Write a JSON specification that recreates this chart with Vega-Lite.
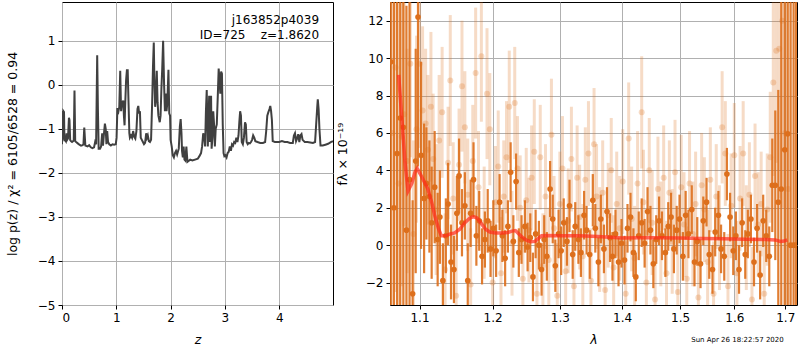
{
  "$schema": "https://vega.github.io/schema/vega-lite/v6.json",
  "background": "white",
  "padding": {"left": 5, "top": 1, "right": 1, "bottom": 0},
  "spacing": 1,
  "config": {
    "font": "DejaVu Sans",
    "view": {"stroke": "black", "strokeWidth": 1},
    "axis": {
      "labelFont": "DejaVu Sans", "labelFontSize": 12, "labelColor": "black",
      "titleFont": "DejaVu Sans", "titleFontSize": 12.5, "titleFontWeight": "normal", "titleColor": "black",
      "gridColor": "#b0b0b0", "gridWidth": 1, "gridOpacity": 1,
      "tickColor": "black", "tickSize": 4, "domain": false, "labelPadding": 3,
      "labelExpr": "replace(datum.label, '-', '−')"
    }
  },
  "datasets": {
    "pz": [
      {"z":0.000,"lp":-1.35},{"z":0.006,"lp":-0.60},{"z":0.012,"lp":-0.62},{"z":0.018,"lp":-1.25},{"z":0.026,"lp":-0.60},{"z":0.037,"lp":-0.62},{"z":0.045,"lp":-1.28},{"z":0.055,"lp":-1.25},{"z":0.070,"lp":-1.28},{"z":0.085,"lp":-1.10},{"z":0.095,"lp":-1.25},{"z":0.110,"lp":-1.22},{"z":0.128,"lp":-0.75},{"z":0.138,"lp":-0.80},{"z":0.150,"lp":-1.25},{"z":0.165,"lp":-1.28},{"z":0.185,"lp":-1.30},{"z":0.205,"lp":-1.28},{"z":0.217,"lp":-1.25},{"z":0.230,"lp":-0.13},{"z":0.243,"lp":-1.28},{"z":0.26,"lp":-1.30},{"z":0.29,"lp":-1.33},{"z":0.32,"lp":-1.36},{"z":0.35,"lp":-1.38},{"z":0.38,"lp":-1.37},{"z":0.395,"lp":-1.35},{"z":0.41,"lp":-0.97},{"z":0.43,"lp":-1.38},{"z":0.47,"lp":-1.40},{"z":0.50,"lp":-1.37},{"z":0.53,"lp":-1.42},{"z":0.56,"lp":-1.44},{"z":0.59,"lp":-1.42},{"z":0.61,"lp":-1.30},{"z":0.628,"lp":-1.35},{"z":0.648,"lp":0.67},{"z":0.662,"lp":-0.60},{"z":0.675,"lp":-1.45},{"z":0.70,"lp":-1.45},{"z":0.72,"lp":-1.40},{"z":0.74,"lp":-1.10},{"z":0.755,"lp":-1.38},{"z":0.77,"lp":-1.15},{"z":0.79,"lp":-0.88},{"z":0.805,"lp":-1.00},{"z":0.818,"lp":-1.35},{"z":0.832,"lp":-1.05},{"z":0.848,"lp":-1.30},{"z":0.87,"lp":-1.35},{"z":0.90,"lp":-1.38},{"z":0.93,"lp":-1.35},{"z":0.96,"lp":-1.36},{"z":0.99,"lp":-1.35},{"z":1.005,"lp":-1.20},{"z":1.02,"lp":-0.53},{"z":1.04,"lp":-0.60},{"z":1.055,"lp":-0.50},{"z":1.072,"lp":0.32},{"z":1.088,"lp":-0.60},{"z":1.10,"lp":-0.45},{"z":1.115,"lp":-0.40},{"z":1.128,"lp":-0.36},{"z":1.14,"lp":-0.70},{"z":1.152,"lp":-0.92},{"z":1.165,"lp":-0.40},{"z":1.18,"lp":0.10},{"z":1.195,"lp":0.33},{"z":1.21,"lp":0.33},{"z":1.225,"lp":-0.40},{"z":1.24,"lp":-1.10},{"z":1.25,"lp":-1.20},{"z":1.27,"lp":-1.15},{"z":1.29,"lp":-1.20},{"z":1.31,"lp":-1.05},{"z":1.33,"lp":-1.18},{"z":1.35,"lp":-1.22},{"z":1.37,"lp":-1.05},{"z":1.39,"lp":-0.55},{"z":1.405,"lp":-0.48},{"z":1.42,"lp":-0.65},{"z":1.435,"lp":-0.60},{"z":1.45,"lp":-1.20},{"z":1.47,"lp":-1.25},{"z":1.49,"lp":-1.30},{"z":1.51,"lp":-1.35},{"z":1.53,"lp":-1.32},{"z":1.55,"lp":-1.10},{"z":1.565,"lp":-1.20},{"z":1.58,"lp":-1.15},{"z":1.60,"lp":-1.28},{"z":1.62,"lp":-1.30},{"z":1.64,"lp":-1.25},{"z":1.66,"lp":-0.40},{"z":1.675,"lp":0.40},{"z":1.69,"lp":0.96},{"z":1.70,"lp":0.20},{"z":1.715,"lp":-0.50},{"z":1.73,"lp":-0.30},{"z":1.745,"lp":0.32},{"z":1.76,"lp":-0.40},{"z":1.775,"lp":-0.70},{"z":1.80,"lp":-0.85},{"z":1.815,"lp":-0.70},{"z":1.83,"lp":-0.10},{"z":1.845,"lp":0.35},{"z":1.862,"lp":1.00},{"z":1.88,"lp":0.00},{"z":1.895,"lp":-0.60},{"z":1.91,"lp":-0.20},{"z":1.925,"lp":-0.60},{"z":1.94,"lp":-0.40},{"z":1.96,"lp":0.34},{"z":1.975,"lp":-0.65},{"z":1.99,"lp":-0.70},{"z":2.00,"lp":-1.25},{"z":2.02,"lp":-1.40},{"z":2.04,"lp":-1.60},{"z":2.06,"lp":-1.65},{"z":2.08,"lp":-1.55},{"z":2.10,"lp":-1.50},{"z":2.12,"lp":-1.58},{"z":2.15,"lp":-1.45},{"z":2.17,"lp":-0.95},{"z":2.185,"lp":-0.78},{"z":2.20,"lp":-1.10},{"z":2.21,"lp":-1.50},{"z":2.225,"lp":-1.65},{"z":2.24,"lp":-1.40},{"z":2.255,"lp":-1.70},{"z":2.27,"lp":-1.72},{"z":2.29,"lp":-1.40},{"z":2.31,"lp":-1.75},{"z":2.33,"lp":-1.73},{"z":2.36,"lp":-1.70},{"z":2.40,"lp":-1.72},{"z":2.45,"lp":-1.70},{"z":2.50,"lp":-1.68},{"z":2.53,"lp":-1.62},{"z":2.56,"lp":-1.55},{"z":2.58,"lp":-1.40},{"z":2.60,"lp":-1.10},{"z":2.62,"lp":-1.20},{"z":2.635,"lp":-1.40},{"z":2.65,"lp":-0.60},{"z":2.665,"lp":-0.12},{"z":2.675,"lp":-0.80},{"z":2.685,"lp":-1.40},{"z":2.70,"lp":-0.70},{"z":2.71,"lp":-0.25},{"z":2.72,"lp":-1.30},{"z":2.73,"lp":-0.90},{"z":2.745,"lp":-0.25},{"z":2.755,"lp":-1.45},{"z":2.77,"lp":-1.20},{"z":2.785,"lp":-0.60},{"z":2.80,"lp":-0.90},{"z":2.815,"lp":-1.40},{"z":2.83,"lp":-1.00},{"z":2.85,"lp":-0.90},{"z":2.87,"lp":-0.20},{"z":2.885,"lp":0.37},{"z":2.90,"lp":0.10},{"z":2.915,"lp":-0.20},{"z":2.93,"lp":0.30},{"z":2.945,"lp":0.25},{"z":2.96,"lp":-0.90},{"z":2.975,"lp":-1.55},{"z":2.99,"lp":-1.62},{"z":3.01,"lp":-1.60},{"z":3.03,"lp":-1.65},{"z":3.05,"lp":-1.55},{"z":3.07,"lp":-1.52},{"z":3.09,"lp":-1.40},{"z":3.11,"lp":-1.50},{"z":3.13,"lp":-1.35},{"z":3.15,"lp":-1.38},{"z":3.17,"lp":-1.30},{"z":3.19,"lp":-1.32},{"z":3.21,"lp":-1.20},{"z":3.23,"lp":-1.30},{"z":3.25,"lp":-1.15},{"z":3.265,"lp":-0.85},{"z":3.28,"lp":-0.60},{"z":3.295,"lp":-0.70},{"z":3.31,"lp":-1.30},{"z":3.33,"lp":-1.35},{"z":3.35,"lp":-1.20},{"z":3.37,"lp":-0.85},{"z":3.385,"lp":-0.90},{"z":3.40,"lp":-1.30},{"z":3.42,"lp":-1.35},{"z":3.44,"lp":-1.32},{"z":3.46,"lp":-1.33},{"z":3.48,"lp":-1.30},{"z":3.50,"lp":-1.25},{"z":3.52,"lp":-1.15},{"z":3.54,"lp":-1.20},{"z":3.56,"lp":-1.28},{"z":3.60,"lp":-1.30},{"z":3.65,"lp":-1.32},{"z":3.70,"lp":-1.32},{"z":3.74,"lp":-1.30},{"z":3.76,"lp":-1.05},{"z":3.78,"lp":-0.70},{"z":3.80,"lp":-0.62},{"z":3.82,"lp":-0.55},{"z":3.835,"lp":-0.48},{"z":3.85,"lp":-0.60},{"z":3.865,"lp":-0.80},{"z":3.88,"lp":-1.28},{"z":3.92,"lp":-1.30},{"z":3.96,"lp":-1.30},{"z":4.00,"lp":-1.30},{"z":4.05,"lp":-1.28},{"z":4.10,"lp":-1.30},{"z":4.15,"lp":-1.30},{"z":4.20,"lp":-1.32},{"z":4.25,"lp":-1.32},{"z":4.27,"lp":-1.15},{"z":4.29,"lp":-1.10},{"z":4.31,"lp":-1.28},{"z":4.33,"lp":-1.22},{"z":4.35,"lp":-1.12},{"z":4.37,"lp":-1.30},{"z":4.39,"lp":-1.15},{"z":4.41,"lp":-1.12},{"z":4.43,"lp":-1.25},{"z":4.47,"lp":-1.30},{"z":4.52,"lp":-1.30},{"z":4.57,"lp":-1.31},{"z":4.62,"lp":-1.32},{"z":4.66,"lp":-1.30},{"z":4.68,"lp":-0.90},{"z":4.70,"lp":-0.50},{"z":4.71,"lp":-0.33},{"z":4.725,"lp":-0.55},{"z":4.74,"lp":-1.00},{"z":4.76,"lp":-1.38},{"z":4.80,"lp":-1.38},{"z":4.85,"lp":-1.36},{"z":4.90,"lp":-1.34},{"z":4.95,"lp":-1.30},{"z":4.99,"lp":-1.28}
    ],
    "labels": [
      {"z":4.733,"lp":1.48,"t":"j163852p4039"},
      {"z":4.733,"lp":1.12,"t":"ID=725\u00a0\u00a0\u00a0\u00a0z=1.8620"}
    ],
    "stamp": [
      {"w":1.697,"f":-5.07,"t":"Sun Apr 26 18:22:57 2020"}
    ],
    "dark": [
      {"w":1.063,"f":9.8,"e":15},{"w":1.067,"f":2.0,"e":15},{"w":1.071,"f":4.9,"e":15},{"w":1.075,"f":6.8,"e":12},{"w":1.079,"f":6.3,"e":12},{"w":1.083,"f":0.8,"e":12},{"w":1.087,"f":3.5,"e":12},{"w":1.091,"f":-2.6,"e":5},{"w":1.095,"f":4.5,"e":6},{"w":1.098,"f":12.2,"e":8},{"w":1.102,"f":4.8,"e":5},{"w":1.106,"f":2.5,"e":4},{"w":1.109,"f":3.3,"e":3},{"w":1.113,"f":2.6,"e":3},{"w":1.116,"f":1.2,"e":3},{"w":1.120,"f":3.1,"e":3},{"w":1.124,"f":0.3,"e":2.5},{"w":1.127,"f":1.5,"e":2.5},{"w":1.131,"f":-1.9,"e":2},{"w":1.135,"f":0.5,"e":2},{"w":1.138,"f":2.2,"e":2.2},{"w":1.142,"f":-0.9,"e":2},{"w":1.146,"f":-1.3,"e":1.8},{"w":1.150,"f":1.7,"e":2},{"w":1.153,"f":3.7,"e":2},{"w":1.157,"f":1.2,"e":1.8},{"w":1.161,"f":2.1,"e":1.8},{"w":1.165,"f":-1.9,"e":2},{"w":1.169,"f":1.7,"e":1.8},{"w":1.173,"f":3.5,"e":2},{"w":1.177,"f":0.5,"e":1.6},{"w":1.181,"f":1.3,"e":1.6},{"w":1.185,"f":-0.6,"e":1.5},{"w":1.189,"f":0.3,"e":1.5},{"w":1.193,"f":1.3,"e":1.7},{"w":1.197,"f":-0.2,"e":1.5},{"w":1.201,"f":0.9,"e":1.5},{"w":1.205,"f":-0.3,"e":1.4},{"w":1.210,"f":2.3,"e":1.5},{"w":1.214,"f":0.5,"e":1.4},{"w":1.218,"f":-0.7,"e":1.5},{"w":1.222,"f":1.0,"e":1.4},{"w":1.226,"f":3.9,"e":1.6},{"w":1.230,"f":0.2,"e":1.4},{"w":1.234,"f":3.4,"e":1.5},{"w":1.238,"f":-0.4,"e":1.3},{"w":1.242,"f":0.3,"e":1.3},{"w":1.247,"f":1.0,"e":1.4},{"w":1.251,"f":-0.1,"e":1.3},{"w":1.255,"f":0.4,"e":1.3},{"w":1.259,"f":-1.7,"e":1.3},{"w":1.263,"f":0.6,"e":1.3},{"w":1.268,"f":0.0,"e":1.3},{"w":1.272,"f":-1.3,"e":1.4},{"w":1.276,"f":0.3,"e":1.3},{"w":1.280,"f":-0.6,"e":1.3},{"w":1.285,"f":3.0,"e":1.5},{"w":1.289,"f":1.4,"e":1.3},{"w":1.293,"f":-1.1,"e":1.4},{"w":1.298,"f":0.6,"e":1.3},{"w":1.302,"f":-0.3,"e":1.3},{"w":1.306,"f":1.2,"e":1.3},{"w":1.311,"f":0.2,"e":1.3},{"w":1.315,"f":2.1,"e":1.4},{"w":1.320,"f":-0.5,"e":1.3},{"w":1.324,"f":1.0,"e":1.3},{"w":1.329,"f":0.3,"e":1.3},{"w":1.333,"f":-0.4,"e":1.3},{"w":1.338,"f":1.6,"e":1.3},{"w":1.342,"f":0.8,"e":1.3},{"w":1.347,"f":-0.5,"e":1.3},{"w":1.352,"f":2.4,"e":1.4},{"w":1.356,"f":0.9,"e":1.3},{"w":1.361,"f":-0.9,"e":1.3},{"w":1.365,"f":1.4,"e":1.3},{"w":1.370,"f":-0.2,"e":1.3},{"w":1.375,"f":1.8,"e":1.3},{"w":1.380,"f":0.4,"e":1.3},{"w":1.384,"f":-0.6,"e":1.3},{"w":1.389,"f":0.6,"e":1.3},{"w":1.394,"f":-0.9,"e":1.3},{"w":1.399,"f":0.1,"e":1.3},{"w":1.404,"f":-0.8,"e":1.3},{"w":1.409,"f":0.9,"e":1.3},{"w":1.414,"f":1.5,"e":1.3},{"w":1.419,"f":-0.4,"e":1.3},{"w":1.423,"f":-1.7,"e":1.3},{"w":1.428,"f":0.5,"e":1.3},{"w":1.433,"f":1.2,"e":1.3},{"w":1.438,"f":0.1,"e":1.3},{"w":1.443,"f":1.8,"e":1.3},{"w":1.448,"f":0.8,"e":1.3},{"w":1.453,"f":-1.0,"e":1.3},{"w":1.458,"f":0.3,"e":1.3},{"w":1.463,"f":1.3,"e":1.3},{"w":1.468,"f":0.5,"e":1.3},{"w":1.474,"f":-0.4,"e":1.3},{"w":1.479,"f":1.0,"e":1.3},{"w":1.484,"f":1.5,"e":1.3},{"w":1.489,"f":-0.2,"e":1.3},{"w":1.494,"f":0.8,"e":1.3},{"w":1.499,"f":1.4,"e":1.3},{"w":1.505,"f":-0.6,"e":1.3},{"w":1.510,"f":1.6,"e":1.3},{"w":1.515,"f":0.6,"e":1.3},{"w":1.521,"f":1.9,"e":1.3},{"w":1.526,"f":-0.9,"e":1.3},{"w":1.531,"f":0.2,"e":1.3},{"w":1.537,"f":-1.0,"e":1.3},{"w":1.542,"f":1.3,"e":1.3},{"w":1.548,"f":2.3,"e":1.3},{"w":1.553,"f":-0.5,"e":1.3},{"w":1.559,"f":-1.3,"e":1.3},{"w":1.564,"f":0.7,"e":1.3},{"w":1.570,"f":1.6,"e":1.3},{"w":1.575,"f":-0.2,"e":1.3},{"w":1.581,"f":-0.6,"e":1.3},{"w":1.586,"f":3.8,"e":1.4},{"w":1.592,"f":1.5,"e":1.3},{"w":1.598,"f":-0.3,"e":1.3},{"w":1.603,"f":0.5,"e":1.3},{"w":1.609,"f":-1.3,"e":1.3},{"w":1.615,"f":1.2,"e":1.3},{"w":1.621,"f":-0.5,"e":1.3},{"w":1.626,"f":0.6,"e":1.3},{"w":1.632,"f":1.4,"e":1.3},{"w":1.638,"f":-0.9,"e":1.3},{"w":1.644,"f":0.9,"e":1.3},{"w":1.650,"f":-1.6,"e":1.3},{"w":1.656,"f":1.3,"e":1.4},{"w":1.662,"f":0.5,"e":1.4},{"w":1.668,"f":-0.6,"e":1.6},{"w":1.674,"f":3.2,"e":2.5},{"w":1.680,"f":3.2,"e":4},{"w":1.686,"f":2.3,"e":6},{"w":1.692,"f":3.0,"e":15},{"w":1.699,"f":5.1,"e":20},{"w":1.705,"f":5.95,"e":20},{"w":1.711,"f":0.0,"e":20},{"w":1.717,"f":0.0,"e":20},{"w":1.722,"f":0.0,"e":20}
    ],
    "light": [
      {"w":1.065,"f":6.0,"e":15},{"w":1.069,"f":9.5,"e":12},{"w":1.073,"f":3.3,"e":10},{"w":1.077,"f":5.8,"e":8},{"w":1.080,"f":7.0,"e":6},{"w":1.084,"f":4.5,"e":6},{"w":1.088,"f":9.7,"e":5},{"w":1.092,"f":0.6,"e":5},{"w":1.096,"f":6.2,"e":5},{"w":1.100,"f":9.7,"e":4.5},{"w":1.104,"f":7.2,"e":4.5},{"w":1.108,"f":6.5,"e":4},{"w":1.111,"f":5.1,"e":4},{"w":1.115,"f":7.4,"e":4},{"w":1.118,"f":4.6,"e":3.5},{"w":1.122,"f":1.9,"e":3.5},{"w":1.126,"f":5.6,"e":3.5},{"w":1.130,"f":7.1,"e":3.5},{"w":1.134,"f":-1.3,"e":3},{"w":1.138,"f":4.4,"e":3},{"w":1.141,"f":8.8,"e":3.5},{"w":1.145,"f":2.5,"e":3},{"w":1.149,"f":-2.7,"e":3},{"w":1.153,"f":4.3,"e":3},{"w":1.157,"f":8.5,"e":3.5},{"w":1.161,"f":6.3,"e":3},{"w":1.165,"f":2.7,"e":3},{"w":1.169,"f":-2.1,"e":3},{"w":1.172,"f":4.5,"e":3},{"w":1.176,"f":9.2,"e":3.5},{"w":1.180,"f":3.1,"e":3},{"w":1.184,"f":10.1,"e":3.5},{"w":1.188,"f":1.2,"e":3},{"w":1.192,"f":8.1,"e":3.5},{"w":1.196,"f":6.2,"e":3},{"w":1.200,"f":-2.0,"e":3},{"w":1.204,"f":2.3,"e":3},{"w":1.208,"f":4.2,"e":3},{"w":1.212,"f":-1.5,"e":3},{"w":1.216,"f":2.6,"e":3},{"w":1.220,"f":4.7,"e":3},{"w":1.224,"f":7.4,"e":3},{"w":1.228,"f":0.1,"e":2.8},{"w":1.232,"f":7.6,"e":3},{"w":1.236,"f":4.1,"e":2.8},{"w":1.240,"f":2.0,"e":2.8},{"w":1.244,"f":-1.8,"e":2.8},{"w":1.249,"f":2.4,"e":2.8},{"w":1.253,"f":0.8,"e":2.8},{"w":1.257,"f":3.6,"e":2.8},{"w":1.261,"f":5.0,"e":2.8},{"w":1.265,"f":-2.6,"e":2.8},{"w":1.270,"f":4.7,"e":2.8},{"w":1.274,"f":-1.1,"e":2.8},{"w":1.278,"f":2.6,"e":2.8},{"w":1.283,"f":-0.8,"e":2.8},{"w":1.287,"f":5.9,"e":3},{"w":1.291,"f":0.9,"e":2.8},{"w":1.296,"f":-2.7,"e":2.8},{"w":1.300,"f":2.2,"e":2.8},{"w":1.304,"f":4.1,"e":2.8},{"w":1.309,"f":-1.4,"e":2.8},{"w":1.313,"f":1.3,"e":2.8},{"w":1.318,"f":4.6,"e":2.8},{"w":1.322,"f":-2.2,"e":2.8},{"w":1.327,"f":3.6,"e":2.8},{"w":1.331,"f":1.5,"e":2.8},{"w":1.336,"f":-0.6,"e":2.8},{"w":1.340,"f":3.5,"e":2.8},{"w":1.345,"f":4.9,"e":2.8},{"w":1.349,"f":-1.9,"e":2.8},{"w":1.354,"f":5.4,"e":3},{"w":1.358,"f":2.6,"e":2.8},{"w":1.363,"f":0.3,"e":2.8},{"w":1.368,"f":2.8,"e":2.8},{"w":1.372,"f":-2.4,"e":2.8},{"w":1.377,"f":1.6,"e":2.8},{"w":1.382,"f":4.0,"e":2.8},{"w":1.386,"f":-1.2,"e":2.8},{"w":1.391,"f":2.2,"e":2.8},{"w":1.396,"f":0.9,"e":2.8},{"w":1.401,"f":3.4,"e":2.8},{"w":1.406,"f":-2.6,"e":2.8},{"w":1.411,"f":5.7,"e":3},{"w":1.416,"f":1.4,"e":2.8},{"w":1.421,"f":-0.7,"e":2.8},{"w":1.426,"f":3.3,"e":2.8},{"w":1.433,"f":7.1,"e":3},{"w":1.436,"f":2.3,"e":2.8},{"w":1.441,"f":-2.0,"e":2.8},{"w":1.446,"f":4.0,"e":2.8},{"w":1.451,"f":1.2,"e":2.8},{"w":1.456,"f":-2.9,"e":2.8},{"w":1.461,"f":3.0,"e":2.8},{"w":1.466,"f":0.6,"e":2.8},{"w":1.471,"f":3.6,"e":2.8},{"w":1.476,"f":-1.5,"e":2.8},{"w":1.481,"f":2.8,"e":2.8},{"w":1.486,"f":0.2,"e":2.8},{"w":1.491,"f":3.9,"e":2.8},{"w":1.496,"f":-2.5,"e":2.8},{"w":1.502,"f":3.1,"e":2.8},{"w":1.507,"f":1.1,"e":2.8},{"w":1.512,"f":-1.8,"e":2.8},{"w":1.517,"f":3.3,"e":2.8},{"w":1.523,"f":0.6,"e":2.8},{"w":1.528,"f":2.2,"e":2.8},{"w":1.533,"f":-2.8,"e":2.8},{"w":1.539,"f":3.2,"e":2.8},{"w":1.544,"f":1.9,"e":2.8},{"w":1.550,"f":-0.9,"e":2.8},{"w":1.555,"f":3.5,"e":2.8},{"w":1.561,"f":-2.6,"e":2.8},{"w":1.566,"f":2.6,"e":2.8},{"w":1.572,"f":0.4,"e":2.8},{"w":1.577,"f":6.3,"e":3},{"w":1.583,"f":4.9,"e":2.8},{"w":1.588,"f":-2.2,"e":2.8},{"w":1.594,"f":2.1,"e":2.8},{"w":1.600,"f":4.8,"e":2.8},{"w":1.605,"f":-1.5,"e":2.8},{"w":1.611,"f":2.5,"e":2.8},{"w":1.617,"f":4.9,"e":2.8},{"w":1.623,"f":0.4,"e":2.8},{"w":1.629,"f":2.7,"e":2.8},{"w":1.634,"f":-2.9,"e":2.8},{"w":1.640,"f":3.7,"e":2.8},{"w":1.646,"f":1.1,"e":2.8},{"w":1.652,"f":2.2,"e":2.8},{"w":1.658,"f":-2.6,"e":2.8},{"w":1.664,"f":1.9,"e":3},{"w":1.670,"f":4.7,"e":3.5},{"w":1.676,"f":8.7,"e":5},{"w":1.682,"f":10.4,"e":6},{"w":1.688,"f":10.5,"e":8},{"w":1.694,"f":12.0,"e":10},{"w":1.700,"f":6.0,"e":12},{"w":1.706,"f":3.0,"e":15}
    ],
    "model": [
      {"w":1.073,"f":9.1},{"w":1.077,"f":6.8},{"w":1.081,"f":4.5},{"w":1.085,"f":2.9},{"w":1.090,"f":3.3},{"w":1.094,"f":3.9},{"w":1.097,"f":4.1},{"w":1.101,"f":3.8},{"w":1.106,"f":3.4},{"w":1.111,"f":3.0},{"w":1.116,"f":2.3},{"w":1.120,"f":1.6},{"w":1.125,"f":0.9},{"w":1.129,"f":0.5},{"w":1.135,"f":0.5},{"w":1.141,"f":0.6},{"w":1.147,"f":0.65},{"w":1.154,"f":0.85},{"w":1.161,"f":1.2},{"w":1.168,"f":1.45},{"w":1.173,"f":1.52},{"w":1.178,"f":1.45},{"w":1.184,"f":1.15},{"w":1.190,"f":0.85},{"w":1.196,"f":0.7},{"w":1.204,"f":0.65},{"w":1.213,"f":0.65},{"w":1.222,"f":0.68},{"w":1.228,"f":0.75},{"w":1.233,"f":0.78},{"w":1.238,"f":0.6},{"w":1.244,"f":0.4},{"w":1.250,"f":0.25},{"w":1.256,"f":0.18},{"w":1.262,"f":0.2},{"w":1.267,"f":0.35},{"w":1.272,"f":0.5},{"w":1.280,"f":0.52},{"w":1.300,"f":0.5},{"w":1.330,"f":0.5},{"w":1.360,"f":0.46},{"w":1.380,"f":0.42},{"w":1.400,"f":0.38},{"w":1.430,"f":0.4},{"w":1.460,"f":0.4},{"w":1.500,"f":0.38},{"w":1.540,"f":0.35},{"w":1.580,"f":0.34},{"w":1.620,"f":0.32},{"w":1.660,"f":0.3},{"w":1.680,"f":0.28},{"w":1.690,"f":0.2},{"w":1.698,"f":0.22},{"w":1.704,"f":0.28}
    ]
  },
  "hconcat": [
    {
      "width": 271,
      "height": 303,
      "layer": [
        {
          "data": {"name": "pz"},
          "mark": {"type": "line", "color": "#404040", "strokeWidth": 2, "clip": true},
          "encoding": {
            "x": {"field": "z", "type": "quantitative", "scale": {"domain": [0, 4.99], "nice": false, "zero": false},
                  "axis": {"values": [0, 1, 2, 3, 4], "format": "d", "title": "z", "titleFontStyle": "italic", "titlePadding": 10}},
            "y": {"field": "lp", "type": "quantitative", "scale": {"domain": [-5, 1.88], "nice": false, "zero": false},
                  "axis": {"values": [-5, -4, -3, -2, -1, 0, 1], "format": "d", "title": "log p(z) / χ² = 6105/6528 = 0.94", "titlePadding": 18}}
          }
        },
        {
          "data": {"name": "labels"},
          "mark": {"type": "text", "align": "right", "baseline": "middle", "fontSize": 12, "font": "DejaVu Sans", "color": "black"},
          "encoding": {
            "x": {"field": "z", "type": "quantitative"},
            "y": {"field": "lp", "type": "quantitative"},
            "text": {"field": "t"}
          }
        }
      ]
    },
    {
      "width": 407,
      "height": 303,
      "encoding": {
        "x": {"field": "w", "type": "quantitative", "scale": {"type": "log", "domain": [1.062, 1.724], "nice": false},
              "axis": {"values": [1.1, 1.2, 1.3, 1.4, 1.5, 1.6, 1.7], "format": ".1f", "title": "λ", "titleFontStyle": "italic", "titlePadding": 10}},
        "y": {"field": "f", "type": "quantitative", "scale": {"domain": [-3.2, 13], "nice": false, "zero": false},
              "axis": {"values": [-2, 0, 2, 4, 6, 8, 10, 12], "format": "d", "title": "fλ × 10⁻¹⁹", "titlePadding": 16}}
      },
      "layer": [
        {
          "data": {"name": "light"},
          "mark": {"type": "errorbar", "color": "#dd6f1c", "opacity": 0.25, "thickness": 3, "clip": true},
          "encoding": {"yError": {"field": "e"}}
        },
        {
          "data": {"name": "light"},
          "mark": {"type": "circle", "color": "#dd6f1c", "opacity": 0.25, "size": 36, "clip": true}
        },
        {
          "data": {"name": "dark"},
          "mark": {"type": "errorbar", "color": "#dd6f1c", "opacity": 0.9, "thickness": 2.2, "clip": true},
          "encoding": {"yError": {"field": "e"}}
        },
        {
          "data": {"name": "dark"},
          "mark": {"type": "circle", "color": "#dd6f1c", "opacity": 1, "size": 32, "clip": true}
        },
        {
          "data": {"name": "model"},
          "mark": {"type": "line", "color": "#ff2a1a", "opacity": 0.7, "strokeWidth": 3.5, "clip": true}
        },
        {
          "mark": {"type": "rule", "color": "black", "strokeDash": [2, 3], "strokeWidth": 1.8},
          "encoding": {"y": {"datum": 0}, "x": {"value": 0}, "x2": {"value": 407}}
        },
        {
          "data": {"name": "stamp"},
          "mark": {"type": "text", "align": "right", "baseline": "middle", "fontSize": 7, "font": "DejaVu Sans", "color": "black", "clip": false},
          "encoding": {"text": {"field": "t"}}
        }
      ]
    }
  ]
}
